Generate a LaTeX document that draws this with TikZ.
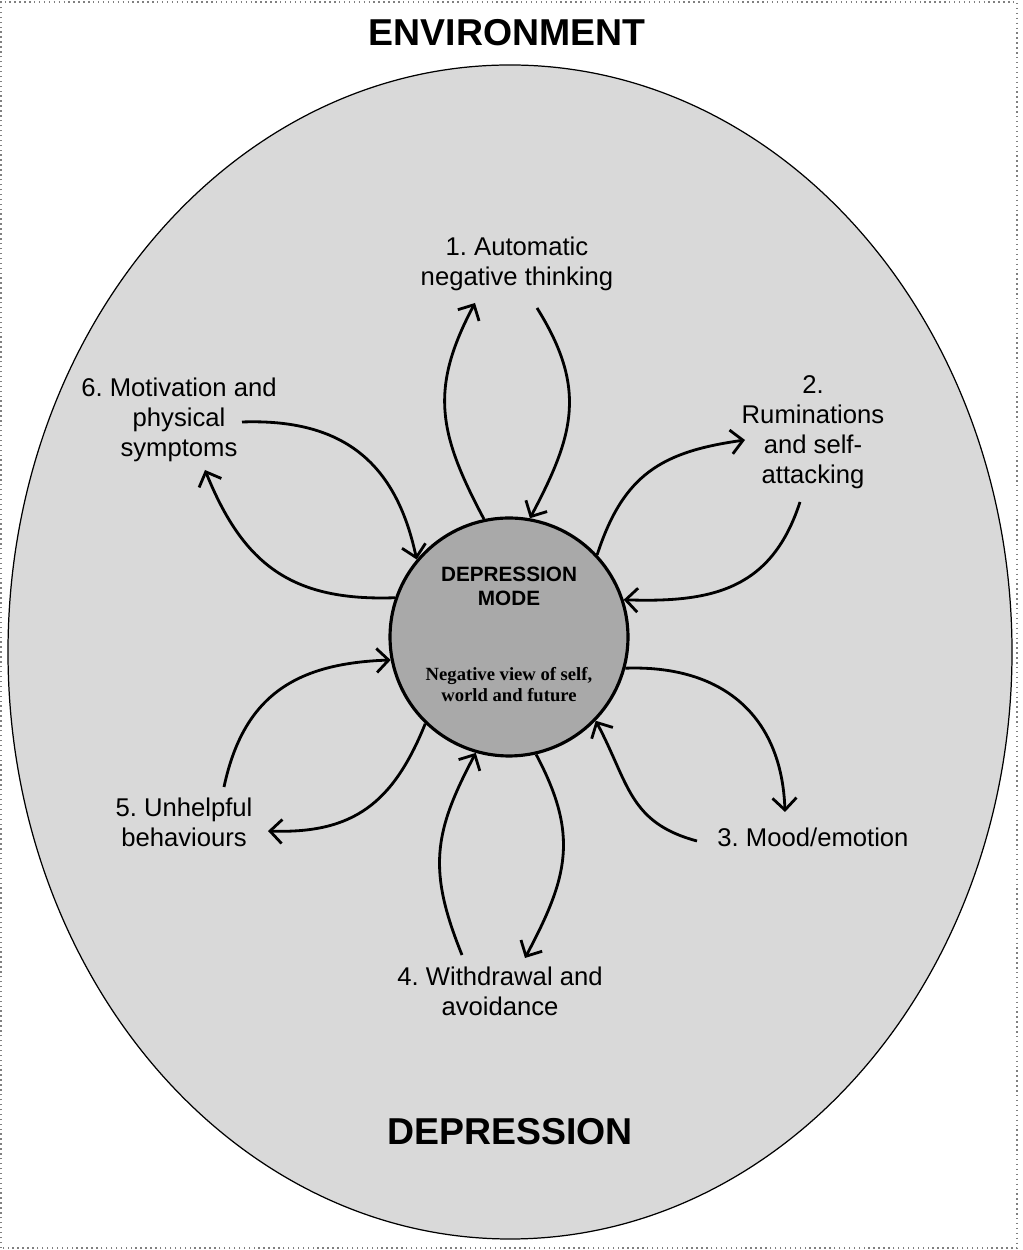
\documentclass[tikz,border=0pt]{standalone}
\usepackage{fontspec}
\setmainfont{Liberation Sans}
\newfontfamily\viewfont{Liberation Serif}
\usepackage{xcolor}
\usepackage{tikz}
\usetikzlibrary{positioning,calc,arrows.meta}
\frenchspacing

\definecolor{envgray}{HTML}{D9D9D9}
\definecolor{modegray}{HTML}{A9A9A9}

\begin{document}
\begin{tikzpicture}[
  x=0.02cm, y=0.02cm,
  label/.style={align=center, font=\fontsize{14.6}{17}\selectfont, inner sep=2pt},
  heading/.style={font=\fontsize{21.3}{24}\selectfont\bfseries},
  loop/.style={-{Straight Barb[length=2.4mm, width=4.8mm]}, line width=1.6pt, looseness=1.15}
]
\useasboundingbox (0,0) rectangle (1022,1250);
\draw[gray, dotted, line width=0.8pt] (1,2) rectangle (1017,1248);

% the depression ellipse
\draw[fill=envgray, line width=0.7pt] (510,598) ellipse [x radius=502, y radius=587];

\node[heading] (env) at (507,1217) {ENVIRONMENT};
\node[heading] (dep) at (510,118) {DEPRESSION};

% core
\node[circle, draw, line width=1.8pt, fill=modegray, minimum size=4.76cm] (mode) at (509,613) {};
\node[font=\fontsize{11.8}{13.5}\selectfont\bfseries, align=center] (modetitle) at ([yshift=29pt]mode.center) {DEPRESSION\\MODE};
\node[font=\viewfont\fontsize{10.6}{12}\selectfont\bfseries, align=center] (modeview) at ([yshift=-27pt]mode.center) {Negative view of self,\\world and future};

% the six areas
\node[label] (thinking) at (517,986) {1. Automatic\\negative thinking};
\node[label] (rumination) at (813,818) {2.\\Ruminations\\and self-\\attacking};
\node[label] (mood) at (813,413) {3. Mood/emotion};
\node[label] (withdrawal) at (500,259) {4. Withdrawal and\\avoidance};
\node[label] (behaviour) at (184,428) {5. Unhelpful\\behaviours};
\node[label] (motivation) at (179,830) {6. Motivation and\\physical\\symptoms};

% free ends next to the labels
\coordinate (thinkingin) at (475,947);
\coordinate (thinkingout) at (537,942);
\coordinate (ruminationin) at (745,810);
\coordinate (ruminationout) at (800,748);
\coordinate (moodin) at (785,438);
\coordinate (moodout) at (697,409);
\coordinate (withdrawalin) at (525,292);
\coordinate (withdrawalout) at (462,295);
\coordinate (behaviourin) at (268,419);
\coordinate (behaviourout) at (224,463);
\coordinate (motivationin) at (205,780);
\coordinate (motivationout) at (242,828);

\draw[loop] (mode.102) to[out=118, in=-118] (thinkingin);
\draw[loop] (thinkingout) to[out=-58, in=62] (mode.80);
\draw[loop] (mode.43) to[out=72, in=188] (ruminationin);
\draw[loop] (ruminationout) to[out=-108, in=-2] (mode.18);
\draw[loop] (mode.-15) to[out=2, in=92] (moodin);
\draw[loop] (moodout) to[out=165, in=-62] (mode.-44);
\draw[loop] (withdrawalout) to[out=112, in=-118] (mode.-106);
\draw[loop] (mode.-77) to[out=-62, in=62] (withdrawalin);
\draw[loop] (behaviourout) to[out=78, in=182] (mode.191);
\draw[loop] (mode.226) to[out=-112, in=-2] (behaviourin);
\draw[loop] (motivationout) to[out=2, in=102] (mode.140);
\draw[loop] (mode.161) to[out=182, in=-68] (motivationin);
\end{tikzpicture}
\end{document}
